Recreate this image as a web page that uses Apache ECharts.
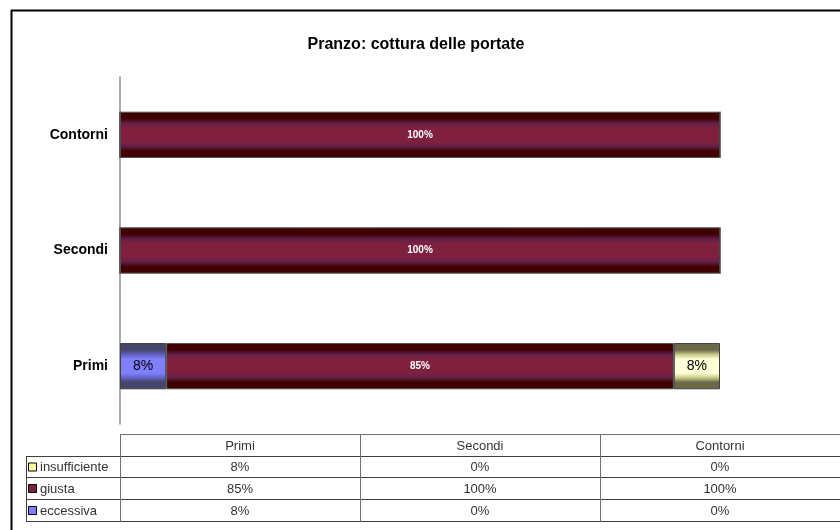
<!DOCTYPE html>
<html>
<head>
<meta charset="utf-8">
<script src="https://cdn.jsdelivr.net/npm/echarts@6/dist/echarts.min.js"></script>
<style>html,body{margin:0;padding:0;background:#fff}#c{width:840px;height:530px}</style>
</head>
<body>
<div id="c"></div>
<script>
var categories = ['Primi', 'Secondi', 'Contorni'];
var eccessiva = [7.7, 0, 0];
var giusta = [84.6, 100, 100];
var insufficiente = [7.7, 0, 0];
var seriesNames = ['insufficiente', 'giusta', 'eccessiva'];

var FONT = '"Liberation Sans", Arial, sans-serif';

function grad(edge, mid, center) {
  return new echarts.graphic.LinearGradient(0, 0, 0, 1, [
    {offset: 0, color: edge}, {offset: 0.15, color: edge},
    {offset: 0.25, color: mid}, {offset: 0.35, color: center},
    {offset: 0.65, color: center}, {offset: 0.75, color: mid},
    {offset: 0.85, color: edge}, {offset: 1, color: edge}
  ]);
}
var colBlue = grad('#45456a', '#6262c4', '#8080ff');
var colRed = grad('#400000', '#602048', '#80203f');
var colYel = grad('#6a6a48', '#c8c888', '#ffffd8');
var swatch = {insufficiente: '#ffffa0', giusta: '#80203f', eccessiva: '#8080ff'};
var tableData = {insufficiente: insufficiente, giusta: giusta, eccessiva: eccessiva};

function pct(v) { return Math.round(v) + '%'; }

var graphics = [];
graphics.push({type: 'line', shape: {x1: 11.5, y1: 10, x2: 11.5, y2: 530}, style: {stroke: '#000', lineWidth: 2}});
graphics.push({type: 'line', shape: {x1: 11, y1: 10.5, x2: 840, y2: 10.5}, style: {stroke: '#000', lineWidth: 2}});
graphics.push({type: 'text', x: 416, y: 45, style: {text: 'Pranzo: cottura delle portate', font: 'bold 16px ' + FONT, fill: '#000', textAlign: 'center', textVerticalAlign: 'middle'}});

var colX = [120, 360, 600, 840];
var rowY = [434, 456, 477, 499, 521];
var lc = '#404040';
graphics.push({type: 'line', shape: {x1: 120, y1: rowY[0] + 0.5, x2: 840, y2: rowY[0] + 0.5}, style: {stroke: '#707070', lineWidth: 1}});
for (var r = 1; r < rowY.length; r++) {
  graphics.push({type: 'line', shape: {x1: 26, y1: rowY[r] + 0.5, x2: 840, y2: rowY[r] + 0.5}, style: {stroke: lc, lineWidth: 1}});
}
graphics.push({type: 'line', shape: {x1: 26.5, y1: rowY[1], x2: 26.5, y2: rowY[4] + 1}, style: {stroke: lc, lineWidth: 1}});
for (var c = 0; c < 3; c++) {
  graphics.push({type: 'line', shape: {x1: colX[c] + 0.5, y1: rowY[0], x2: colX[c] + 0.5, y2: rowY[4] + 1}, style: {stroke: '#707070', lineWidth: 1}});
  graphics.push({type: 'text', x: (colX[c] + colX[c + 1]) / 2, y: (rowY[0] + rowY[1]) / 2 + 1, style: {text: categories[c], font: '13px ' + FONT, fill: '#333', textAlign: 'center', textVerticalAlign: 'middle'}});
}
for (var s = 0; s < seriesNames.length; s++) {
  var nm = seriesNames[s];
  var yc = (rowY[s + 1] + rowY[s + 2]) / 2 + 1;
  graphics.push({type: 'rect', shape: {x: 28.5, y: yc - 4.5, width: 8, height: 8}, style: {fill: swatch[nm], stroke: '#000', lineWidth: 1}});
  graphics.push({type: 'text', x: 40, y: yc, style: {text: nm, font: '13px ' + FONT, fill: '#333', textAlign: 'left', textVerticalAlign: 'middle'}});
  for (var c2 = 0; c2 < 3; c2++) {
    graphics.push({type: 'text', x: (colX[c2] + colX[c2 + 1]) / 2, y: yc, style: {text: pct(tableData[nm][c2]), font: '13px ' + FONT, fill: '#333', textAlign: 'center', textVerticalAlign: 'middle'}});
  }
}

var chart = echarts.init(document.getElementById('c'), null, {renderer: 'canvas'});
var sideLabel = {show: true, position: 'inside', color: '#000', fontSize: 14, fontFamily: FONT,
  formatter: function (p) { return p.value > 0 ? pct(p.value) : ''; }};
chart.setOption({
  animation: false,
  backgroundColor: '#fff',
  grid: {left: 120, right: 120, top: 77, bottom: 106},
  xAxis: {type: 'value', min: 0, max: 100, show: false},
  yAxis: {
    type: 'category', data: categories,
    axisLine: {show: true, lineStyle: {color: '#909090', width: 1.5}},
    axisTick: {show: false},
    axisLabel: {color: '#000', fontWeight: 'bold', fontSize: 14, fontFamily: FONT, margin: 12},
    splitLine: {show: false}
  },
  series: [
    {name: 'eccessiva', type: 'bar', stack: 'a', data: eccessiva, barWidth: '40%',
     itemStyle: {color: colBlue, borderColor: '#404040', borderWidth: 1}, label: sideLabel},
    {name: 'giusta', type: 'bar', stack: 'a', data: giusta, barWidth: '40%',
     itemStyle: {color: colRed, borderColor: '#505050', borderWidth: 1},
     label: {show: true, position: 'inside', color: '#fff', fontSize: 10, fontWeight: 'bold', fontFamily: FONT,
       formatter: function (p) { return pct(p.value); }}},
    {name: 'insufficiente', type: 'bar', stack: 'a', data: insufficiente, barWidth: '40%',
     itemStyle: {color: colYel, borderColor: '#404040', borderWidth: 1}, label: sideLabel}
  ],
  graphic: graphics
});
</script>
</body>
</html>
